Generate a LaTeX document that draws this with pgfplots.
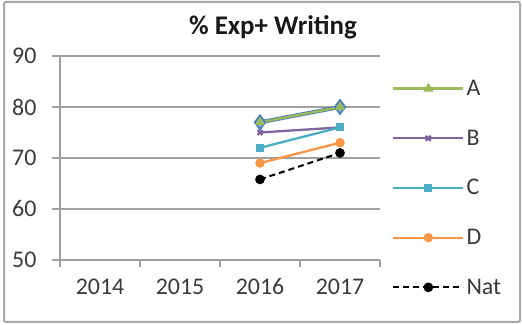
\documentclass[border=0pt]{standalone}
\usepackage{pgfplots}
\pgfplotsset{compat=1.18}
\usepackage{fontspec}
\setmainfont{Carlito}
\definecolor{cA}{HTML}{9BBB59}
\definecolor{cB}{HTML}{8064A2}
\definecolor{cC}{HTML}{4BACC6}
\definecolor{cD}{HTML}{F79646}
\definecolor{cBlue}{HTML}{4F81BD}
\definecolor{gridc}{HTML}{A0A0A0}
\definecolor{framec}{HTML}{A8A8A8}
\definecolor{txt}{HTML}{3A3A3A}
\begin{document}
\begin{tikzpicture}
\useasboundingbox (0bp,0bp) rectangle (522bp,325bp);
\draw[framec, line width=2bp, rounded corners=2bp] (4bp,3bp) rectangle (520bp,323bp);
\node[font=\fontsize{27}{30}\selectfont\bfseries, text=black!90] at (273bp,298bp) {\% Exp+ Writing};
\begin{axis}[at={(60bp,65bp)}, anchor=south west, scale only axis,
  width=320bp, height=204bp,
  xmin=-0.5, xmax=3.5, ymin=50, ymax=90,
  ytick={50,60,70,80,90},
  xtick={0,1,2,3}, xticklabels={2014,2015,2016,2017},
  major x tick style={draw=none},
  minor xtick={-0.5,0.5,1.5,2.5,3.5},
  axis lines*=left,
  axis line style={gridc, line width=1.3bp, -},
  tick align=outside, major tick length=8bp, minor tick length=7bp,
  every tick/.style={gridc, line width=1.3bp},
  ymajorgrids, grid style={gridc, line width=1.3bp},
  tick label style={font=\fontsize{24}{26}\selectfont, text=txt},
  yticklabel style={xshift=-12bp},
  xticklabel style={yshift=-7bp},
  /pgf/number format/assume math mode=true,
  legend style={draw=none, fill=none, at={(rel axis cs:1,1)}, anchor=north west,
    xshift=12bp, yshift=-22bp, font=\fontsize{24}{26}\selectfont, text=txt,
    row sep=28.8bp, inner sep=0pt, nodes={inner sep=2bp}},
  legend cell align=left,
  legend image code/.code={\draw[mark repeat=2, mark phase=2] plot coordinates {(0bp,0bp)(35bp,0bp)(70bp,0bp)};},
]
\addplot[cBlue, line width=4bp, mark=diamond*, mark size=6.8bp,
  mark options={fill=cBlue!55, draw=cBlue, line width=2bp}, forget plot]
  coordinates {(2,77)(3,80)};
\addplot[cA, line width=2.3bp, mark=triangle*, mark size=3.5bp, mark options={solid}]
  coordinates {(2,77)(3,80)};
\addlegendentry{A}
\addplot[cB, line width=2.3bp, mark=x, mark size=3.5bp, mark options={solid}]
  coordinates {(2,75)(3,76)};
\addlegendentry{B}
\addplot[cC, line width=2.3bp, mark=square*, mark size=2.8bp, mark options={solid}]
  coordinates {(2,72)(3,76)};
\addlegendentry{C}
\addplot[cD, line width=2.3bp, mark=*, mark size=3.5bp, mark options={solid}]
  coordinates {(2,69)(3,73)};
\addlegendentry{D}
\addplot[black, line width=2bp, dash pattern=on 6bp off 4bp, mark=*, mark size=3.8bp, mark options={solid}]
  coordinates {(2,65.8)(3,71)};
\addlegendentry{Nat}
\end{axis}
\end{tikzpicture}
\end{document}
